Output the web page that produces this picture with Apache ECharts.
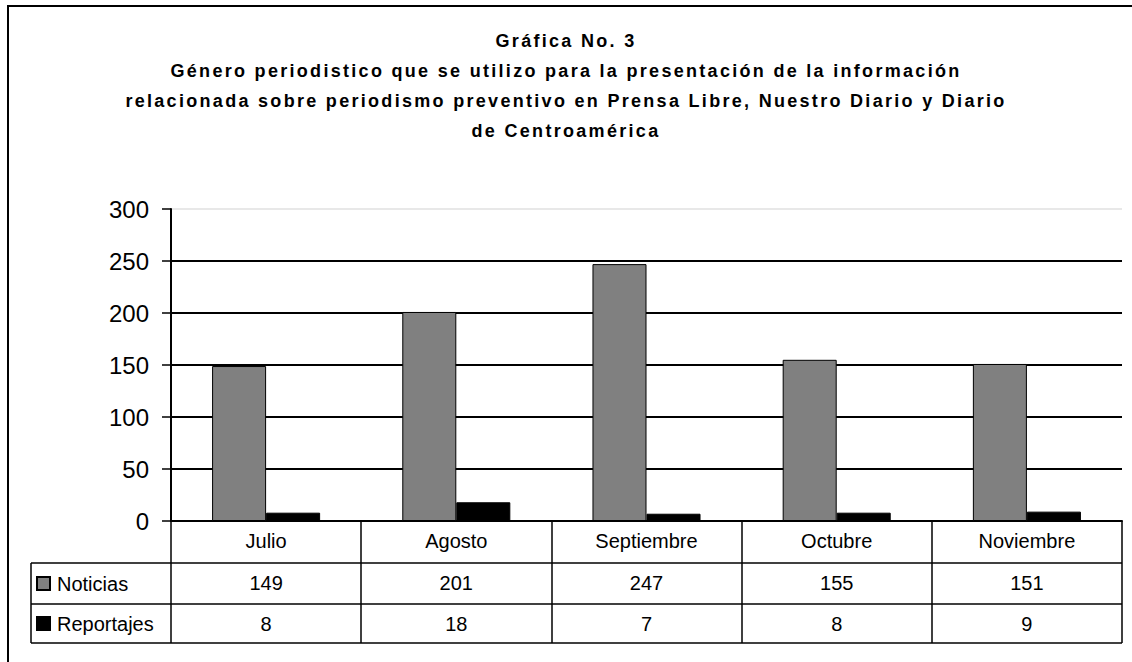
<!DOCTYPE html>
<html>
<head>
<meta charset="utf-8">
<script src="https://cdn.jsdelivr.net/npm/echarts@6/dist/echarts.min.js"></script>
<style>
  html, body { margin: 0; padding: 0; background: #fff; }
  #chart { width: 1132px; height: 662px; }
  #chart text[style*="bold"] { letter-spacing: 2.3px; }
</style>
</head>
<body>
<div id="chart"></div>
<script>
// ---- data ----
const titleLines = [
  'Gráfica No. 3',
  'Género periodistico que se utilizo para la presentación de la información',
  'relacionada sobre periodismo preventivo en Prensa Libre, Nuestro Diario y Diario',
  'de Centroamérica'
];
const categories = ['Julio', 'Agosto', 'Septiembre', 'Octubre', 'Noviembre'];
const seriesNames = ['Noticias', 'Reportajes'];
const noticias = [149, 201, 247, 155, 151];
const reportajes = [8, 18, 7, 8, 9];
const yMin = 0, yMax = 300, yInterval = 50;

// ---- layout ----
const W = 1132, H = 662;
const gridLeft = 171, gridRight = 1122, gridTop = 209, gridBottomY = 521;
const rowH = [42, 41, 39];            // category row, Noticias row, Reportajes row
const row1 = gridBottomY + rowH[0];   // 563
const row2 = row1 + rowH[1];          // 604
const row3 = row2 + rowH[2];          // 643
const tableLeft = 31;
const FONT = '"Liberation Sans", Arial, sans-serif';
const tableFont = 20;

const chart = echarts.init(document.getElementById('chart'), null, { renderer: 'svg' });

const lineStyle = { stroke: '#000', lineWidth: 1.5 };
const graphics = [
  { type: 'rect', shape: { x: 8, y: 6, width: W + 20, height: H + 20 }, style: { fill: 'none', stroke: '#000', lineWidth: 2 }, z: 100 },
  { type: 'line', shape: { x1: tableLeft, y1: row1, x2: gridRight, y2: row1 }, style: lineStyle, z: 100 },
  { type: 'line', shape: { x1: tableLeft, y1: row2, x2: gridRight, y2: row2 }, style: lineStyle, z: 100 },
  { type: 'line', shape: { x1: tableLeft, y1: row3, x2: gridRight, y2: row3 }, style: lineStyle, z: 100 },
  { type: 'line', shape: { x1: tableLeft, y1: row1, x2: tableLeft, y2: row3 }, style: lineStyle, z: 100 }
];

const labelBase = { color: '#000', fontFamily: FONT, fontSize: tableFont, interval: 0, margin: 10 };

const option = {
  backgroundColor: '#fff',
  animation: false,
  title: {
    text: titleLines.join('\n'),
    left: 'center',
    top: 26,
    padding: 0,
    textStyle: { fontFamily: FONT, fontSize: 18, fontWeight: 'bold', color: '#000', lineHeight: 30 }
  },
  legend: {
    data: seriesNames,
    orient: 'vertical',
    left: 36,
    top: row1 + rowH[1] / 2 - 10,
    padding: 0,
    itemGap: 20,
    itemWidth: 13,
    itemHeight: 13,
    icon: 'rect',
    selectedMode: false,
    textStyle: { fontFamily: FONT, fontSize: tableFont, color: '#000', lineHeight: 20, padding: [0, 0, 0, 2] }
  },
  grid: { left: gridLeft, right: W - gridRight, top: gridTop, bottom: H - gridBottomY, containLabel: false },
  xAxis: [
    {
      type: 'category',
      data: categories,
      position: 'bottom',
      axisLine: { show: true, lineStyle: { color: '#000', width: 2 } },
      axisTick: { show: true, length: row3 - gridBottomY, lineStyle: { color: '#000', width: 1.5 } },
      axisLabel: labelBase,
      splitLine: { show: false }
    },
    {
      type: 'category',
      data: categories,
      position: 'bottom',
      offset: rowH[0],
      axisLine: { show: false },
      axisTick: { show: false },
      axisLabel: Object.assign({}, labelBase, { formatter: (v, i) => String(noticias[i]) })
    },
    {
      type: 'category',
      data: categories,
      position: 'bottom',
      offset: rowH[0] + rowH[1],
      axisLine: { show: false },
      axisTick: { show: false },
      axisLabel: Object.assign({}, labelBase, { formatter: (v, i) => String(reportajes[i]) })
    }
  ],
  yAxis: {
    type: 'value',
    min: yMin,
    max: yMax,
    interval: yInterval,
    axisLine: { show: true, lineStyle: { color: '#000', width: 2 } },
    axisTick: { show: true, length: 9, lineStyle: { color: '#000', width: 1.5 } },
    axisLabel: { color: '#000', fontFamily: FONT, fontSize: 24, margin: 22 },
    splitLine: { show: true, lineStyle: { color: ['#000', '#000', '#000', '#000', '#000', '#000', '#e8e8e8'], width: 2 } }
  },
  series: [
    {
      name: seriesNames[0],
      type: 'bar',
      data: noticias,
      barWidth: '28.4%',
      barGap: '0%',
      itemStyle: { color: '#808080', borderColor: '#000', borderWidth: 1 }
    },
    {
      name: seriesNames[1],
      type: 'bar',
      data: reportajes,
      barWidth: '28.4%',
      barGap: '0%',
      itemStyle: { color: '#000', borderColor: '#000', borderWidth: 1 }
    }
  ],
  graphic: graphics
};
chart.setOption(option);
</script>
</body>
</html>
